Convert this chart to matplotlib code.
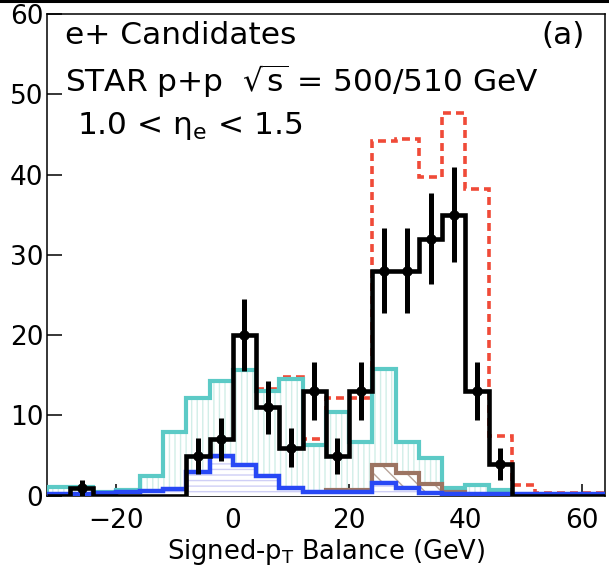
import numpy as np
import matplotlib
matplotlib.use('Agg')
import matplotlib.pyplot as plt
from matplotlib.lines import Line2D

# 4 GeV bins from -32 to 64
edges = np.arange(-32, 65, 4)
centers = edges[:-1] + 2

data = np.array([0, 1, 0, 0, 0, 0, 5, 7, 20, 11, 6, 13,
                 5, 13, 28, 28, 32, 35, 13, 4, 0, 0, 0, 0])
qcd = [1.1, 1.1, 0.5, 0.75, 2.4, 7.9, 12.2, 14.3, 15.6, 13.0, 14.5, 6.3,
       10.4, 6.7, 15.8, 6.7, 4.7, 1.0, 1.35, 0.7, 0, 0, 0, 0]
total = [1.1, 1.1, 0.5, 0.75, 2.4, 7.9, 12.2, 14.3, 15.6, 13.3, 14.8, 7.1,
         12.2, 12.2, 44.2, 44.4, 39.7, 47.7, 38.2, 7.4, 1.3, 0.35, 0.35, 0.35]
zbg = [0.25, 0.25, 0.3, 0.45, 0.6, 0.8, 3.0, 5.0, 3.8, 2.4, 1.0, 0.45,
       0.4, 0.4, 1.55, 0.93, 0.35, 0.25, 0.25, 0.25, 0.15, 0.15, 0.15, 0.15]
taubg = [0, 0, 0, 0, 0, 0, 0, 0, 0, 0, 0, 0,
         0.7, 0.7, 3.85, 2.8, 1.5, 0.5, 0.1, 0, 0, 0, 0, 0]

cyan = '#5ccac6'
red = '#f04a38'
blue = '#2848f5'
brown = '#9c7462'

plt.rcParams['font.family'] = 'DejaVu Sans'
plt.rcParams['hatch.linewidth'] = 1.0

fig = plt.figure(figsize=(6.09, 5.72), dpi=100)
ax = fig.add_axes([0.0767, 0.1334, 0.9167, 0.8421])

ax.stairs(qcd, edges, fill=True, facecolor='white', edgecolor='#d2eee8',
          hatch='|||', linewidth=0, zorder=1)
ax.stairs(total, edges, color=red, lw=2.6, linestyle=(0, (2.2, 1.4)), zorder=2)
ax.stairs(qcd, edges, color=cyan, lw=3.0, zorder=3)
ax.stairs(taubg, edges, fill=True, facecolor='white', edgecolor='#b8a49a',
          hatch='\\\\', linewidth=0, zorder=4)
ax.stairs(taubg, edges, color=brown, lw=3.0, zorder=5)
ax.stairs(zbg, edges, fill=True, facecolor='white', edgecolor='#cfcff6',
          hatch='---', linewidth=0, zorder=6)
ax.stairs(zbg, edges, color=blue, lw=3.2, zorder=7)
ax.stairs(data, edges, color='black', lw=3.3, zorder=8)

nz = data > 0
ax.errorbar(centers[nz], data[nz], yerr=np.sqrt(data[nz]), fmt='o', ms=6.5,
            color='black', elinewidth=3.6, capsize=0, zorder=9)

ax.set_xlim(-32, 64)
ax.set_ylim(0, 60)
ax.set_xticks([-20, 0, 20, 40, 60])
ax.set_yticks(range(0, 61, 10))
ax.tick_params(axis='both', direction='in', top=False, right=False,
               width=1.1, labelsize=19)
ax.tick_params(axis='x', length=8.6, pad=8.5)
ax.tick_params(axis='y', length=10.8, pad=2.5)
for s in ax.spines.values():
    s.set_linewidth(1.1)

ax.set_xlabel(r'Signed-p$_{\mathrm{T}}$ Balance (GeV)', fontsize=18.5)
ax.xaxis.set_label_coords(0.5, -0.085)

ax.text(0.033, 0.937, 'e+ Candidates', transform=ax.transAxes,
        fontsize=22.5, va='baseline', ha='left')
ax.text(0.964, 0.937, '(a)', transform=ax.transAxes,
        fontsize=22.5, va='baseline', ha='right')
ax.text(0.033, 0.839, r'STAR p+p  $\sqrt{\mathrm{s}}$ = 500/510 GeV',
        transform=ax.transAxes, fontsize=22.5, va='baseline', ha='left')
ax.text(0.054, 0.751, r'1.0 < η$_{\mathrm{e}}$ < 1.5', transform=ax.transAxes,
        fontsize=22.5, va='baseline', ha='left')

fig.add_artist(Line2D([0, 1], [0.9975, 0.9975], color='black', lw=2.2,
                      transform=fig.transFigure))

plt.savefig('out.png', dpi=100)
